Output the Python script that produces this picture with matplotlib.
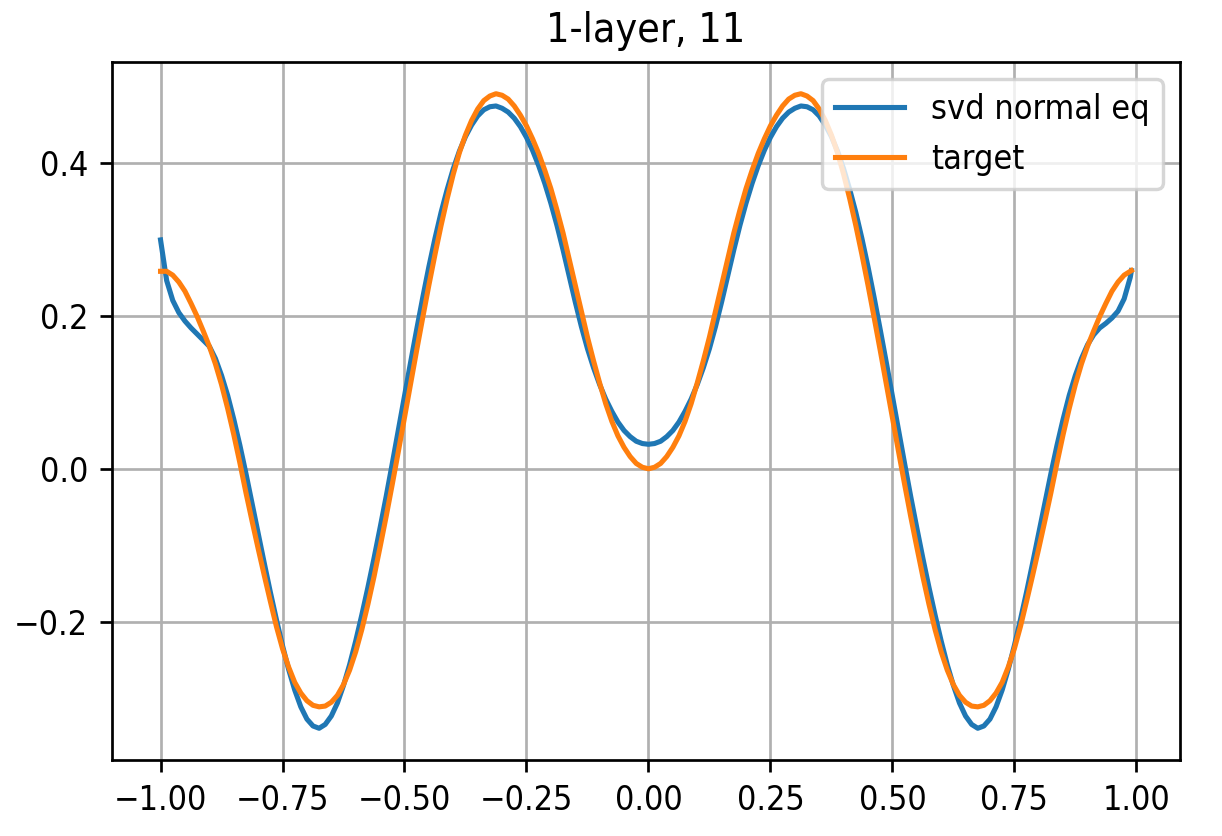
import matplotlib
matplotlib.use("Agg")
import matplotlib.pyplot as plt

# sample positions along x
x = [-1.0, -0.9875, -0.975, -0.9625, -0.95, -0.9375, -0.925, -0.9125,
     -0.9, -0.8875, -0.875, -0.8625, -0.85, -0.8375, -0.825, -0.8125,
     -0.8, -0.7875, -0.775, -0.7625, -0.75, -0.7375, -0.725, -0.7125,
     -0.7, -0.6875, -0.675, -0.6625, -0.65, -0.6375, -0.625, -0.6125,
     -0.6, -0.5875, -0.575, -0.5625, -0.55, -0.5375, -0.525, -0.5125,
     -0.5, -0.4875, -0.475, -0.4625, -0.45, -0.4375, -0.425, -0.4125,
     -0.4, -0.3875, -0.375, -0.3625, -0.35, -0.3375, -0.325, -0.3125,
     -0.3, -0.2875, -0.275, -0.2625, -0.25, -0.2375, -0.225, -0.2125,
     -0.2, -0.1875, -0.175, -0.1625, -0.15, -0.1375, -0.125, -0.1125,
     -0.1, -0.0875, -0.075, -0.0625, -0.05, -0.0375, -0.025, -0.0125,
     0.0,
     0.0125, 0.025, 0.0375, 0.05, 0.0625, 0.075, 0.0875, 0.1,
     0.1125, 0.125, 0.1375, 0.15, 0.1625, 0.175, 0.1875, 0.2,
     0.2125, 0.225, 0.2375, 0.25, 0.2625, 0.275, 0.2875, 0.3,
     0.3125, 0.325, 0.3375, 0.35, 0.3625, 0.375, 0.3875, 0.4,
     0.4125, 0.425, 0.4375, 0.45, 0.4625, 0.475, 0.4875, 0.5,
     0.5125, 0.525, 0.5375, 0.55, 0.5625, 0.575, 0.5875, 0.6,
     0.6125, 0.625, 0.6375, 0.65, 0.6625, 0.675, 0.6875, 0.7,
     0.7125, 0.725, 0.7375, 0.75, 0.7625, 0.775, 0.7875, 0.8,
     0.8125, 0.825, 0.8375, 0.85, 0.8625, 0.875, 0.8875, 0.9,
     0.9125, 0.925, 0.9375, 0.95, 0.9625, 0.975, 0.9875,
     0.99]

svd_normal_eq = [
    0.299, 0.246, 0.220, 0.204, 0.193, 0.184, 0.176, 0.168,
    0.160, 0.144, 0.122, 0.096, 0.065, 0.031, -0.006, -0.045,
    -0.084, -0.123, -0.161, -0.197, -0.231, -0.262, -0.289, -0.311,
    -0.327, -0.336, -0.339, -0.334, -0.323, -0.306, -0.283, -0.256,
    -0.225, -0.191, -0.155, -0.117, -0.077, -0.036, 0.007, 0.051,
    0.095, 0.139, 0.182, 0.224, 0.264, 0.301, 0.335, 0.365,
    0.392, 0.415, 0.434, 0.449, 0.461, 0.469, 0.473, 0.474,
    0.471, 0.466, 0.458, 0.447, 0.433, 0.416, 0.396, 0.373,
    0.347, 0.318, 0.286, 0.252, 0.218, 0.186, 0.157, 0.132,
    0.110, 0.091, 0.075, 0.061, 0.050, 0.042, 0.036, 0.033,
    0.032,
    0.033, 0.036, 0.042, 0.050, 0.061, 0.075, 0.091, 0.110,
    0.132, 0.157, 0.186, 0.218, 0.252, 0.286, 0.318, 0.347,
    0.373, 0.396, 0.416, 0.433, 0.447, 0.458, 0.466, 0.471,
    0.474, 0.473, 0.469, 0.461, 0.449, 0.434, 0.415, 0.392,
    0.365, 0.335, 0.301, 0.264, 0.224, 0.182, 0.139, 0.095,
    0.051, 0.007, -0.036, -0.077, -0.117, -0.155, -0.191, -0.225,
    -0.256, -0.283, -0.306, -0.323, -0.334, -0.339, -0.336, -0.327,
    -0.311, -0.289, -0.262, -0.231, -0.197, -0.161, -0.123, -0.084,
    -0.045, -0.006, 0.031, 0.065, 0.096, 0.122, 0.144, 0.162,
    0.175, 0.184, 0.190, 0.197, 0.206, 0.222, 0.250,
    0.259]

target = [
    0.258, 0.258, 0.253, 0.244, 0.232, 0.216, 0.199, 0.180,
    0.160, 0.137, 0.110, 0.079, 0.045, 0.008, -0.031, -0.068,
    -0.104, -0.139, -0.173, -0.206, -0.235, -0.259, -0.279, -0.293,
    -0.303, -0.309, -0.311, -0.310, -0.305, -0.296, -0.282, -0.263,
    -0.239, -0.210, -0.177, -0.141, -0.102, -0.062, -0.020, 0.023,
    0.067, 0.111, 0.155, 0.198, 0.240, 0.280, 0.318, 0.353,
    0.385, 0.413, 0.436, 0.455, 0.470, 0.481, 0.487, 0.490,
    0.488, 0.483, 0.474, 0.462, 0.448, 0.431, 0.412, 0.390,
    0.366, 0.338, 0.308, 0.274, 0.240, 0.206, 0.172, 0.141,
    0.112, 0.085, 0.062, 0.043, 0.028, 0.016, 0.007, 0.002,
    0.000,
    0.002, 0.007, 0.016, 0.028, 0.043, 0.062, 0.085, 0.112,
    0.141, 0.172, 0.206, 0.240, 0.274, 0.308, 0.338, 0.366,
    0.390, 0.412, 0.431, 0.448, 0.462, 0.474, 0.483, 0.488,
    0.490, 0.487, 0.481, 0.470, 0.455, 0.436, 0.413, 0.385,
    0.353, 0.318, 0.280, 0.240, 0.198, 0.155, 0.111, 0.067,
    0.023, -0.020, -0.062, -0.102, -0.141, -0.177, -0.210, -0.239,
    -0.263, -0.282, -0.296, -0.305, -0.310, -0.311, -0.309, -0.303,
    -0.293, -0.279, -0.259, -0.235, -0.206, -0.173, -0.139, -0.104,
    -0.068, -0.031, 0.008, 0.045, 0.079, 0.110, 0.137, 0.160,
    0.180, 0.199, 0.216, 0.232, 0.244, 0.253, 0.258,
    0.259]

# text in the reference is narrow, use the condensed face
plt.rcParams['font.stretch'] = 'condensed'

fig = plt.figure(figsize=(1222 / 245, 836 / 245), dpi=245)
ax = fig.add_subplot(111)
fig.subplots_adjust(left=112 / 1222, right=1180 / 1222, bottom=76 / 836, top=1 - 62 / 836)

ax.plot(x, svd_normal_eq, label='svd normal eq')
ax.plot(x, target, label='target')
ax.set_title('1-layer, 11')
ax.grid(True)
ax.legend(loc='upper right')

fig.savefig('out.png', dpi=245)
